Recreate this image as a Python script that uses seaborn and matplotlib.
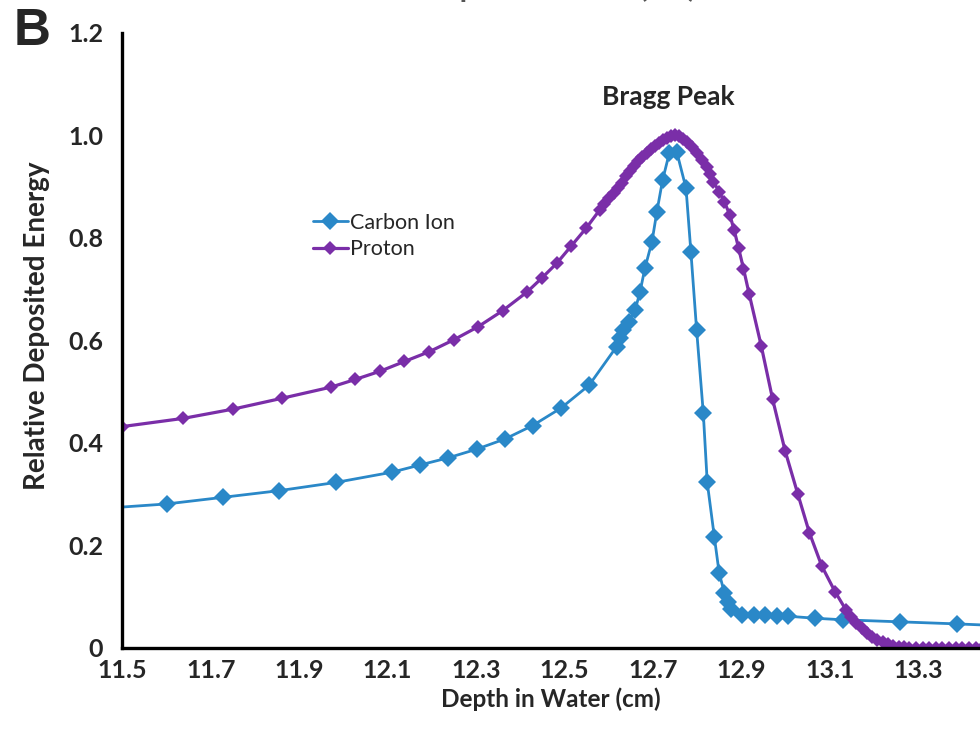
import numpy as np
import pandas as pd
import seaborn as sb
from matplotlib import pyplot as plt

# values
carbon_depth = [11.50, 11.600, 11.728, 11.855, 11.983, 12.110, 12.173, 12.237, 12.302, 12.366,
                12.428, 12.492, 12.556, 12.618, 12.626, 12.633, 12.645, 12.660, 12.671, 12.682,
                12.698, 12.709, 12.722, 12.737, 12.754, 12.775, 12.786, 12.799, 12.814, 12.823,
                12.839, 12.850, 12.862, 12.871, 12.876, 12.902, 12.928, 12.953, 12.981, 13.005,
                13.067, 13.130, 13.259, 13.387, 13.500]
carbon_energy = [0.275, 0.281, 0.294, 0.307, 0.323, 0.343, 0.357, 0.371, 0.388, 0.408,
                 0.434, 0.468, 0.513, 0.588, 0.604, 0.620, 0.637, 0.660, 0.695, 0.741,
                 0.793, 0.851, 0.913, 0.965, 0.968, 0.897, 0.773, 0.620, 0.459, 0.323,
                 0.217, 0.146, 0.107, 0.090, 0.077, 0.064, 0.064, 0.064, 0.063, 0.062,
                 0.058, 0.055, 0.051, 0.047, 0.043]

proton_depth = [11.500, 11.638, 11.750, 11.860, 11.972, 12.027, 12.083, 12.138, 12.194, 12.249,
                12.305, 12.360, 12.416, 12.449, 12.483, 12.515, 12.549, 12.580, 12.590, 12.600,
                12.611, 12.620, 12.630, 12.640, 12.648, 12.658, 12.667, 12.676, 12.686, 12.695,
                12.705, 12.714, 12.724, 12.733, 12.742, 12.750, 12.759, 12.768, 12.777, 12.788,
                12.799, 12.810, 12.822, 12.830, 12.837, 12.850, 12.862, 12.874, 12.884, 12.894,
                12.905, 12.918, 12.945, 12.971, 12.999, 13.028, 13.054, 13.082, 13.112, 13.137,
                13.148, 13.160, 13.172, 13.184, 13.196, 13.208, 13.220, 13.232, 13.244, 13.256,
                13.268, 13.280, 13.295, 13.310, 13.325, 13.340, 13.355, 13.370, 13.385, 13.400,
                13.415, 13.430, 13.445]
proton_energy = [0.432, 0.448, 0.466, 0.487, 0.509, 0.524, 0.540, 0.559, 0.578, 0.601,
                 0.627, 0.658, 0.695, 0.722, 0.751, 0.784, 0.819, 0.855, 0.866, 0.877,
                 0.887, 0.897, 0.908, 0.920, 0.930, 0.940, 0.950, 0.958, 0.966, 0.973,
                 0.980, 0.986, 0.991, 0.995, 0.998, 1.000, 0.998, 0.994, 0.988, 0.978,
                 0.966, 0.953, 0.939, 0.925, 0.910, 0.890, 0.870, 0.845, 0.815, 0.780,
                 0.740, 0.690, 0.590, 0.485, 0.385, 0.300, 0.225, 0.160, 0.110, 0.074,
                 0.060, 0.048, 0.038, 0.030, 0.022, 0.016, 0.011, 0.007, 0.004, 0.002,
                 0.001, 0.000, 0.000, 0.000, 0.000, 0.000, 0.000, 0.000, 0.000, 0.000,
                 0.000, 0.000, 0.000]

y_ticks = [0, 0.2, 0.4, 0.6, 0.8, 1.0, 1.2]
y_tick_labels = ["0", "0.2", "0.4", "0.6", "0.8", "1.0", "1.2"]
x_ticks = [11.5, 11.7, 11.9, 12.1, 12.3, 12.5, 12.7, 12.9, 13.1, 13.3]

CARBON_COLOR = "#2a88c8"
PROTON_COLOR = "#7a2ea8"

sb.set_style("white")
plt.rcParams["font.family"] = ["Lato", "DejaVu Sans"]

carbon = pd.DataFrame({"depth": carbon_depth, "energy": carbon_energy})
proton = pd.DataFrame({"depth": proton_depth, "energy": proton_energy})

fig = plt.figure(figsize=(9.8, 7.34), dpi=100)
ax = fig.add_axes([0.1249, 0.1172, 0.8751, 0.8379])

sb.lineplot(data=carbon, x="depth", y="energy", ax=ax, estimator=None, sort=False,
            color=CARBON_COLOR, linewidth=2.0, marker="D", markersize=9,
            markeredgewidth=0, markevery=list(range(1, len(carbon_depth))), label="Carbon Ion")
sb.lineplot(data=proton, x="depth", y="energy", ax=ax, estimator=None, sort=False,
            color=PROTON_COLOR, linewidth=2.3, marker="D", markersize=7.5,
            markeredgewidth=0, label="Proton")

ax.set_xlim(11.5, 13.44)
ax.set_ylim(0, 1.2)
ax.set_xticks(x_ticks)
ax.set_xticklabels([f"{t:.1f}" for t in x_ticks])
ax.set_yticks(y_ticks)
ax.set_yticklabels(y_tick_labels)

for s in ["top", "right"]:
    ax.spines[s].set_visible(False)
for s in ["left", "bottom"]:
    ax.spines[s].set_color("black")
    ax.spines[s].set_linewidth(2.4)

ax.tick_params(axis="x", direction="out", length=7, width=2, color="black", pad=1,
               labelsize=18)
ax.tick_params(axis="y", direction="in", length=7, width=2, color="black", pad=14,
               labelsize=18)
for lab in ax.get_xticklabels() + ax.get_yticklabels():
    lab.set_fontweight("bold")

ax.set_xlabel("Depth in Water (cm)", fontsize=17.5, fontweight="bold", labelpad=4)
ax.set_ylabel("Relative Deposited Energy", fontsize=20, fontweight="bold")
ax.yaxis.set_label_coords(-0.084, 0.524)

ax.text(12.735, 1.075, "Bragg Peak", ha="center", va="center", fontsize=19, fontweight="bold")

ax.legend(loc="upper left", bbox_to_anchor=(0.21, 0.725), frameon=False, fontsize=15.5,
          handlelength=1.6, handletextpad=0.1, labelspacing=0.3, borderpad=0)

fig.text(0.014, 1 - 45 / 734, "B", fontsize=37, fontweight="bold",
         family=["Liberation Sans", "DejaVu Sans"], va="baseline")
# top-axis title cut off by the crop
fig.text(0.57, 1 + 3 / 734, "Depth in Water (cm)", fontsize=22, fontweight="bold",
         ha="center", va="baseline", color="#555555")

fig.savefig("out.png", dpi=100)
